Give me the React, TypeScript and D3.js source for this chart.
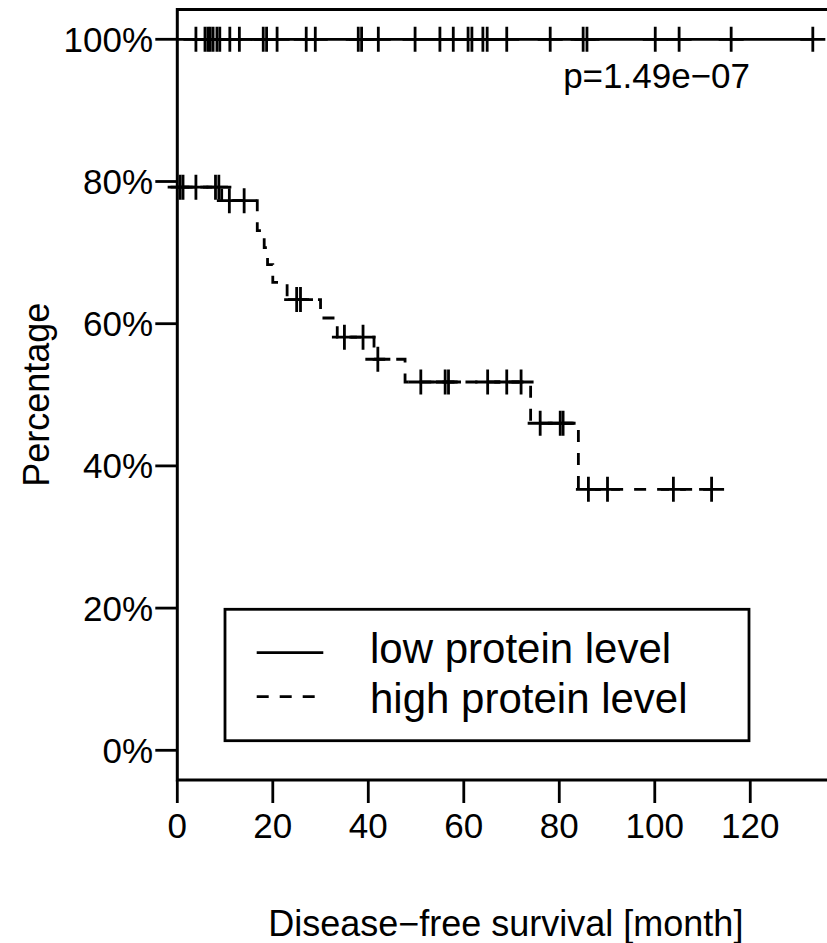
import React from "react";
import * as d3 from "d3";

// Kaplan-Meier steps (time in months, survival in %)
const lowStepTimes = [0, 133.1];
const lowStepSurv = [100, 100];
const lowCensorTimes = [
  3.9, 5.8, 6.4, 6.9, 7.5, 8.3, 8.9, 11.0, 13.0, 18.0, 18.7, 20.9, 27.0, 28.9,
  37.9, 38.6, 42.1, 49.8, 55.0, 57.8, 60.9, 61.7, 64.0, 64.9, 69.0, 78.1, 85.0,
  85.8, 100.1, 105.1, 116.0, 133.1,
];

const highStepTimes = [0, 9.3, 16.75, 18.2, 18.9, 20.0, 23.0, 30.0, 33.5, 41.2, 47.7, 74.0, 84.0, 111.9];
const highStepSurv = [79.2, 77.3, 73.1, 70.7, 68.3, 65.8, 63.4, 60.8, 58.1, 55.0, 51.8, 46.0, 36.7, 36.7];
const highCensorTimes = [
  0.6, 1.2, 3.9, 8.0, 8.7, 10.9, 14.0, 25.0, 25.8, 35.0, 38.9, 42.0, 51.0, 56.1,
  56.8, 65.0, 69.0, 72.0, 76.0, 80.2, 80.8, 86.1, 90.1, 103.9, 111.9,
];

const xTicks = [0, 20, 40, 60, 80, 100, 120];
const yTicks = [0, 20, 40, 60, 80, 100];
const legendLabels = ["low protein level", "high protein level"];
const pValueText = "p=1.49e\u221207";
const xTitle = "Disease\u2212free survival [month]";
const yTitle = "Percentage";

const FONT = "'Liberation Sans', Arial, Helvetica, sans-serif";

const App = () => {
  const width = 827;
  const height = 943;
  const box = { left: 177.3, right: 834.3, top: 9.5, bottom: 780 };

  const xScale = d3.scaleLinear().domain([0, 137.6]).range([box.left, box.right]);
  const yScale = d3.scaleLinear().domain([0, 100]).range([750.3, 39.3]);

  const stepLine = d3
    .line<[number, number]>()
    .x((d) => xScale(d[0]))
    .y((d) => yScale(d[1]))
    .curve(d3.curveStepAfter);

  const lowPts = lowStepTimes.map((t, i) => [t, lowStepSurv[i]] as [number, number]);
  const highPts = highStepTimes.map((t, i) => [t, highStepSurv[i]] as [number, number]);

  // survival value at time t for a step function
  const survAt = (times: number[], surv: number[], t: number) => {
    let s = surv[0];
    times.forEach((tt, i) => {
      if (tt <= t) s = surv[i];
    });
    return s;
  };

  const cross = (cx: number, cy: number, key: string) => (
    <path
      key={key}
      d={`M${cx - 12.5},${cy}H${cx + 12.5}M${cx},${cy - 12.5}V${cy + 12.5}`}
      stroke="black"
      strokeWidth={2.8}
      fill="none"
    />
  );

  const legend = { x0: 225, x1: 749, y0: 609.3, y1: 740.7 };

  return (
    <svg
      width={width}
      height={height}
      style={{ position: "absolute", left: 0, top: 0, background: "white" }}
      fontFamily={FONT}
    >
      <rect x={0} y={0} width={width} height={height} fill="white" />

      {/* plot box */}
      <rect
        x={box.left}
        y={box.top}
        width={box.right - box.left}
        height={box.bottom - box.top}
        fill="none"
        stroke="black"
        strokeWidth={3}
      />

      {/* y axis */}
      {yTicks.map((v) => (
        <g key={"y" + v}>
          <line x1={box.left - 22} x2={box.left} y1={yScale(v)} y2={yScale(v)} stroke="black" strokeWidth={2.8} />
          <text x={153} y={yScale(v) + 12.5} textAnchor="end" fontSize={35}>
            {v}%
          </text>
        </g>
      ))}

      {/* x axis */}
      {xTicks.map((v) => (
        <g key={"x" + v}>
          <line x1={xScale(v)} x2={xScale(v)} y1={box.bottom} y2={box.bottom + 23} stroke="black" strokeWidth={2.8} />
          <text x={xScale(v)} y={838.3} textAnchor="middle" fontSize={35}>
            {v}
          </text>
        </g>
      ))}

      <text x={(box.left + box.right) / 2} y={935.5} textAnchor="middle" fontSize={36}>
        {xTitle}
      </text>
      <text
        transform={`translate(49, ${(box.top + box.bottom) / 2}) rotate(-90)`}
        textAnchor="middle"
        fontSize={36}
      >
        {yTitle}
      </text>

      {/* curves */}
      <path d={stepLine(lowPts) ?? ""} fill="none" stroke="black" strokeWidth={2.8} />
      <path
        d={stepLine(highPts) ?? ""}
        fill="none"
        stroke="black"
        strokeWidth={2.8}
        strokeDasharray="12 11"
      />
      {lowCensorTimes.map((t, i) =>
        cross(xScale(t), yScale(survAt(lowStepTimes, lowStepSurv, t)), "lc" + i)
      )}
      {highCensorTimes.map((t, i) =>
        cross(xScale(t), yScale(survAt(highStepTimes, highStepSurv, t)), "hc" + i)
      )}

      <text x={750} y={88} textAnchor="end" fontSize={35}>
        {pValueText}
      </text>

      {/* legend */}
      <rect
        x={legend.x0}
        y={legend.y0}
        width={legend.x1 - legend.x0}
        height={legend.y1 - legend.y0}
        fill="white"
        stroke="black"
        strokeWidth={2.8}
      />
      <line x1={256.7} x2={323.3} y1={652.7} y2={652.7} stroke="black" strokeWidth={2.8} />
      <line
        x1={256.7}
        x2={323.3}
        y1={696.7}
        y2={696.7}
        stroke="black"
        strokeWidth={2.8}
        strokeDasharray="12 11"
      />
      <text x={370} y={663.3} fontSize={42}>
        {legendLabels[0]}
      </text>
      <text x={370} y={713.3} fontSize={42}>
        {legendLabels[1]}
      </text>
    </svg>
  );
};

export default App;
